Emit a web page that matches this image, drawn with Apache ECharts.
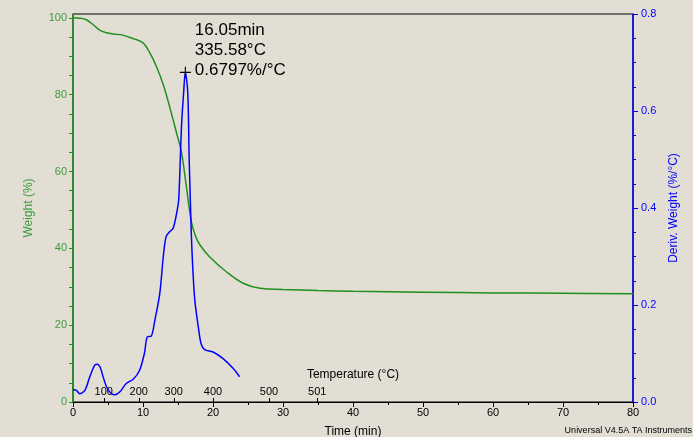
<!DOCTYPE html>
<html>
<head>
<meta charset="utf-8">
<script src="https://cdn.jsdelivr.net/npm/echarts@6/dist/echarts.min.js"></script>
<style>
html,body{margin:0;padding:0;background:#e3ded4;}
#chart{width:693px;height:437px;}
</style>
</head>
<body>
<div id="chart"></div>
<script>
// Weight (%) vs time (min)
var weightTime = [0, 0.95, 1.9, 2.9, 3.8, 4.8, 5.7, 7.1, 8.6, 10, 11, 11.9, 12.9, 13.8, 14.8, 15.5, 16.2, 16.9, 17.5, 18.1, 19.5, 21.9, 24.3, 26.7, 30, 35, 40, 50, 60, 70, 80];
var weightVal  = [100, 99.9, 99.5, 98.2, 96.8, 96.1, 95.8, 95.5, 94.6, 93.5, 90.8, 87.4, 82.6, 76.9, 70.0, 65.0, 56.0, 47.0, 43.2, 41.0, 37.8, 33.9, 30.9, 29.6, 29.3, 29.0, 28.8, 28.6, 28.4, 28.3, 28.2];

// Deriv. weight (%/°C) vs time (min)
var derivTime = [0, 0.5, 0.95, 1.7, 2.4, 3.1, 3.5, 3.9, 4.3, 4.8, 5.5, 6.0, 6.7, 7.6, 8.6, 9.5, 10.2, 10.6, 11.2, 11.7, 12.4, 12.9, 13.3, 13.8, 14.3, 14.8, 15.1, 15.5, 15.8, 16.05, 16.4, 16.6, 16.9, 17.1, 17.4, 17.9, 18.3, 18.8, 20.0, 21.4, 22.9, 23.8];
var derivVal  = [0.026, 0.024, 0.017, 0.024, 0.052, 0.076, 0.078, 0.071, 0.052, 0.031, 0.017, 0.015, 0.021, 0.038, 0.047, 0.065, 0.100, 0.134, 0.136, 0.169, 0.224, 0.300, 0.341, 0.351, 0.358, 0.389, 0.417, 0.568, 0.637, 0.6797, 0.637, 0.499, 0.348, 0.279, 0.210, 0.155, 0.120, 0.108, 0.103, 0.090, 0.069, 0.052];

// Peak annotation
var peakTime = 16.05;
var peakTemp = 335.58;
var peakDeriv = 0.6797;

// Temperature scale shown along the time axis
var tempTimes  = [4.4, 9.4, 14.4, 20.0, 28.0, 34.9];
var tempLabels = ['100', '200', '300', '400', '500', '501'];

// Tick values
var weightLabelTicks = [0, 20, 40, 60, 80, 100];
var weightTicks = [0, 5, 10, 15, 20, 25, 30, 35, 40, 45, 50, 55, 60, 65, 70, 75, 80, 85, 90, 95, 100];

var GREEN = '#1f8f1f', GREEN_T = '#3a9d3a', BLUE = '#0000ff';
var FONT = 'Liberation Sans, Arial, sans-serif';

function pairs(xs, ys){ return xs.map(function(x,i){ return [x, ys[i]]; }); }

var chart = echarts.init(document.getElementById('chart'));
chart.setOption({
  backgroundColor: '#e3ded4',
  animation: false,
  textStyle: {fontFamily: FONT},
  grid: {left: 73, right: 60, top: 14, bottom: 35, outerBoundsMode: 'none', containLabel: false,
         show: true, borderColor: '#000', borderWidth: 1, backgroundColor: 'transparent'},
  xAxis: [{
    type: 'value', min: 0, max: 80, interval: 10,
    name: 'Time (min)', nameLocation: 'middle', nameGap: 24,
    nameTextStyle: {color: '#000', fontSize: 12, fontFamily: FONT},
    axisLine: {show: true, onZero: false, lineStyle: {color: '#000', width: 1}},
    axisTick: {show: true, length: 5, lineStyle: {color: '#000'}},
    minorTick: {show: true, splitNumber: 2, length: 3, lineStyle: {color: '#000'}},
    axisLabel: {color: '#000', fontSize: 11, margin: 5, fontFamily: FONT},
    splitLine: {show: false}
  }, {
    type: 'value', min: 0, max: 80, position: 'bottom',
    name: 'Temperature (°C)', nameLocation: 'middle', nameGap: -27, nameMoveOverlap: false,
    nameTextStyle: {color: '#000', fontSize: 12, fontFamily: FONT, verticalAlign: 'middle'},
    axisLine: {show: false},
    axisTick: {show: true, inside: true, length: 4, customValues: tempTimes, lineStyle: {color: '#000'}},
    axisLabel: {show: true, inside: true, margin: 5, color: '#000', fontSize: 11, fontFamily: FONT,
      customValues: tempTimes,
      formatter: function(v){ var i = tempTimes.indexOf(v); return i >= 0 ? tempLabels[i] : ''; }},
    splitLine: {show: false}
  }],
  yAxis: [{
    type: 'value', min: 0, max: 101, position: 'left',
    name: 'Weight (%)', nameLocation: 'middle', nameGap: 38, nameRotate: 90,
    nameTextStyle: {color: GREEN_T, fontSize: 12, fontFamily: FONT},
    axisLine: {show: true, onZero: false, lineStyle: {color: GREEN, width: 1.5}},
    axisTick: {show: true, length: 4, customValues: weightTicks, lineStyle: {color: GREEN}},
    axisLabel: {color: GREEN_T, fontSize: 11, margin: 6, fontFamily: FONT, customValues: weightLabelTicks},
    splitLine: {show: false}
  }, {
    type: 'value', min: 0, max: 0.8, interval: 0.2, position: 'right',
    name: 'Deriv. Weight (%/°C)', nameLocation: 'middle', nameGap: 34, nameRotate: 90,
    nameTextStyle: {color: BLUE, fontSize: 12, fontFamily: FONT},
    axisLine: {show: true, onZero: false, lineStyle: {color: BLUE, width: 1.5}},
    axisTick: {show: true, length: 5, lineStyle: {color: BLUE}},
    minorTick: {show: true, splitNumber: 4, length: 3, lineStyle: {color: BLUE}},
    axisLabel: {color: BLUE, fontSize: 11, margin: 8, fontFamily: FONT, formatter: function(v){ return v.toFixed(1); }},
    splitLine: {show: false}
  }],
  series: [{
    type: 'line', xAxisIndex: 0, yAxisIndex: 0,
    data: pairs(weightTime, weightVal),
    smooth: 0.35, showSymbol: false,
    lineStyle: {color: GREEN, width: 1.5}
  }, {
    type: 'line', xAxisIndex: 0, yAxisIndex: 1,
    data: pairs(derivTime, derivVal),
    smooth: 0.3, showSymbol: false,
    lineStyle: {color: BLUE, width: 1.5},
    markPoint: {
      symbol: 'path://M0,4.5H10V5.5H0Z M4.5,0H5.5V10H4.5Z',
      symbolSize: 11,
      itemStyle: {color: '#000'},
      data: [{coord: [peakTime, peakDeriv], value: peakDeriv}],
      label: {
        show: true, position: [15, 13], align: 'left', verticalAlign: 'bottom',
        color: '#000', fontSize: 17, lineHeight: 20, fontFamily: FONT,
        formatter: function(){ return peakTime.toFixed(2) + 'min\n' + peakTemp.toFixed(2) + '°C\n' + peakDeriv.toFixed(4) + '%/°C'; }
      }
    }
  }],
  graphic: [{
    type: 'text', right: 1, bottom: 2,
    style: {text: 'Universal V4.5A TA Instruments', fill: '#000', font: '9px ' + FONT}
  }]
});
</script>
</body>
</html>
